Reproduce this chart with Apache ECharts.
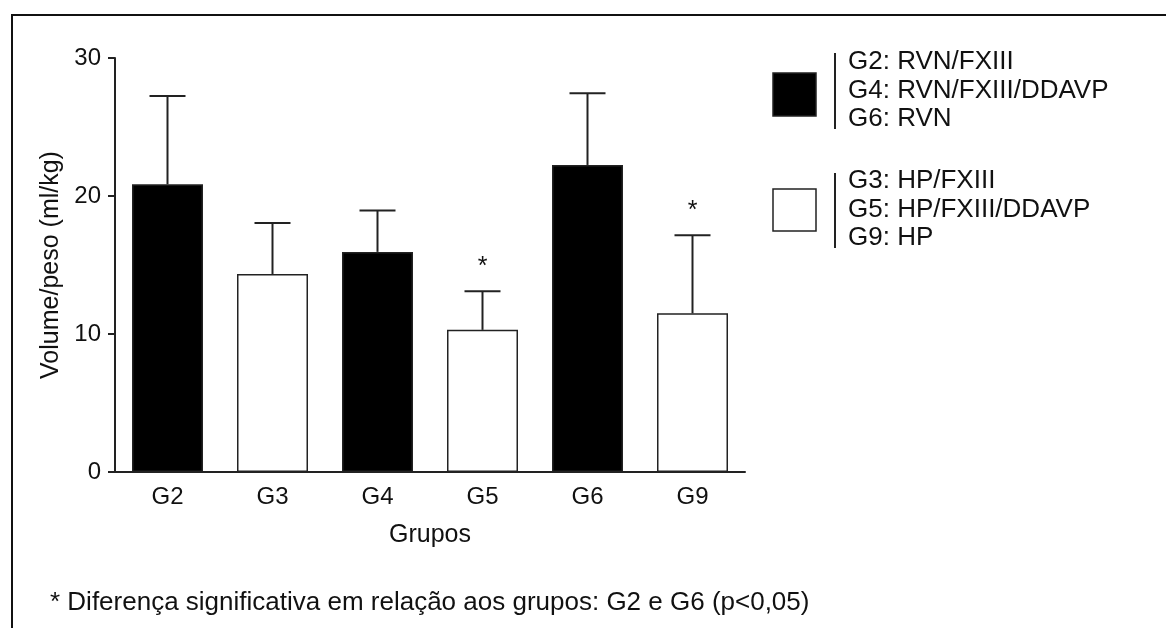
<!DOCTYPE html>
<html>
<head>
<meta charset="utf-8">
<script src="https://cdn.jsdelivr.net/npm/echarts@6/dist/echarts.min.js"></script>
<style>
  html, body { margin: 0; padding: 0; background: #fff; }
  #chart { width: 1166px; height: 628px; }
</style>
</head>
<body>
<div id="chart"></div>
<script>
// data
var categories = ['G2', 'G3', 'G4', 'G5', 'G6', 'G9'];
var means = [20.85, 14.35, 15.95, 10.3, 22.25, 11.5];
var sds = [6.4, 3.7, 3.0, 2.8, 5.2, 5.65];
var groupType = ['RVN', 'HP', 'RVN', 'HP', 'RVN', 'HP'];
var significant = [false, false, false, true, false, true];
var yTicks = [0, 10, 20, 30];
var legendRVN = ['G2: RVN/FXIII', 'G4: RVN/FXIII/DDAVP', 'G6: RVN'];
var legendHP = ['G3: HP/FXIII', 'G5: HP/FXIII/DDAVP', 'G9: HP'];
var footnote = '* Diferença significativa em relação aos grupos: G2 e G6 (p<0,05)';

var FONT = '"Liberation Sans", Arial, sans-serif';
var INK = '#111';

var chart = echarts.init(document.getElementById('chart'));

var barData = means.map(function (v, i) {
  return {
    value: v,
    itemStyle: {
      color: groupType[i] === 'RVN' ? '#000' : '#fff',
      borderColor: '#222',
      borderWidth: 1.5
    }
  };
});

var errData = means.map(function (v, i) {
  return [i, v, sds[i], significant[i] ? 1 : 0];
});

function renderError(params, api) {
  var i = api.value(0), m = api.value(1), sd = api.value(2), star = api.value(3);
  var base = api.coord([i, m]);
  var top = api.coord([i, m + sd]);
  var half = 18;
  var lineStyle = { stroke: '#222', lineWidth: 2 };
  var children = [
    { type: 'line', shape: { x1: base[0], y1: base[1], x2: top[0], y2: top[1] }, style: lineStyle },
    { type: 'line', shape: { x1: top[0] - half, y1: top[1], x2: top[0] + half, y2: top[1] }, style: lineStyle }
  ];
  if (star) {
    children.push({
      type: 'text',
      style: {
        text: '*', x: top[0], y: top[1] - 24,
        align: 'center', verticalAlign: 'middle',
        font: '25px ' + FONT, fill: INK
      }
    });
  }
  return { type: 'group', children: children };
}

chart.setOption({
  backgroundColor: '#fff',
  animation: false,
  textStyle: { fontFamily: FONT },
  grid: { left: 115, right: 421, top: 58, bottom: 156 },
  xAxis: {
    type: 'category',
    data: categories,
    name: 'Grupos',
    nameLocation: 'middle',
    nameGap: 51,
    nameTextStyle: { fontSize: 25, color: INK, fontFamily: FONT },
    axisLine: { lineStyle: { color: '#222', width: 2 } },
    axisTick: { alignWithLabel: true, length: 7, lineStyle: { color: '#222', width: 2 } },
    axisLabel: { fontSize: 24, color: INK, margin: 13, fontFamily: FONT }
  },
  yAxis: {
    type: 'value',
    min: yTicks[0],
    max: yTicks[yTicks.length - 1],
    interval: 10,
    name: 'Volume/peso (ml/kg)',
    nameLocation: 'middle',
    nameGap: 46,
    nameRotate: 90,
    nameTextStyle: { fontSize: 25, color: INK, fontFamily: FONT },
    axisLine: { show: true, lineStyle: { color: '#222', width: 2 } },
    axisTick: { show: true, length: 7, lineStyle: { color: '#222', width: 2 } },
    axisLabel: { fontSize: 24, color: INK, margin: 14, fontFamily: FONT },
    splitLine: { show: false }
  },
  series: [
    {
      type: 'bar',
      data: barData,
      barWidth: 71,
      z: 2
    },
    {
      type: 'custom',
      data: errData,
      renderItem: renderError,
      encode: { x: 0, y: 1 },
      z: 3
    }
  ],
  graphic: [
    // outer frame (top and left edges)
    { type: 'line', shape: { x1: 11, y1: 15, x2: 1166, y2: 15 }, style: { stroke: '#111', lineWidth: 2 } },
    { type: 'line', shape: { x1: 12, y1: 15, x2: 12, y2: 628 }, style: { stroke: '#111', lineWidth: 2 } },
    // legend
    { type: 'rect', shape: { x: 773, y: 73, width: 43, height: 43 }, style: { fill: '#000', stroke: '#222', lineWidth: 1.5 } },
    { type: 'line', shape: { x1: 835, y1: 53, x2: 835, y2: 129 }, style: { stroke: '#222', lineWidth: 2 } },
    { type: 'text', style: { text: legendRVN.join('\n'), x: 848, y: 48, font: '26px ' + FONT, lineHeight: 28.5, fill: INK } },
    { type: 'rect', shape: { x: 773, y: 189, width: 43, height: 42 }, style: { fill: '#fff', stroke: '#222', lineWidth: 1.5 } },
    { type: 'line', shape: { x1: 835, y1: 173, x2: 835, y2: 248 }, style: { stroke: '#222', lineWidth: 2 } },
    { type: 'text', style: { text: legendHP.join('\n'), x: 848, y: 167, font: '26px ' + FONT, lineHeight: 28.5, fill: INK } },
    // footnote
    { type: 'text', style: { text: footnote, x: 50, y: 603, verticalAlign: 'middle', font: '26px ' + FONT, fill: INK } }
  ]
});
</script>
</body>
</html>
